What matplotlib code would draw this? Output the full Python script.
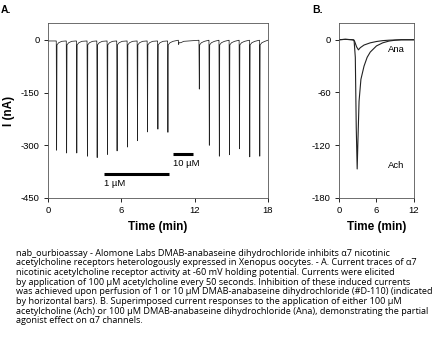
import matplotlib.pyplot as plt
import numpy as np

plt.rcParams['font.family'] = ['Liberation Sans Narrow', 'Liberation Sans', 'DejaVu Sans']

# panel A: acetylcholine pulses (time in min, peak current in nA)
spike_t = [0.68, 1.50, 2.33, 3.20, 4.00, 4.84, 5.63, 6.48, 7.30, 8.12, 8.97, 9.79,
           10.67, 12.36, 13.18, 14.00, 14.83, 15.65, 16.49, 17.31]
spike_i = [-314, -322, -322, -331, -335, -326, -316, -305, -287, -262, -254, -263,
           -13, -140, -300, -331, -327, -310, -333, -331]
bars = [(4.6, 9.93, -383, '1 µM'), (10.23, 11.84, -325, '10 µM')]

# panel B: superimposed responses
ach_t = [0, 1, 2, 2.4, 2.6, 2.75, 2.9, 3.0, 3.2, 3.5, 4.0, 4.5, 5, 6, 7, 8, 9, 10, 12]
ach_i = [0, 0.5, 0, -0.5, -20, -100, -147, -120, -70, -45, -30, -20, -14, -7, -3.5, -1.5, -0.5, 0, 0]
ana_t = [0, 1, 2.3, 2.5, 2.8, 3.1, 3.4, 4, 5, 6, 7, 8, 10, 12]
ana_i = [0, 0.5, 0, -2, -8, -11.5, -9, -6, -3.5, -2, -1, -0.5, 0, 0]

caption = [
    "nab_ourbioassay - Alomone Labs DMAB-anabaseine dihydrochloride inhibits \u03b17 nicotinic",
    "acetylcholine receptors heterologously expressed in Xenopus oocytes. - A. Current traces of \u03b17",
    "nicotinic acetylcholine receptor activity at -60 mV holding potential. Currents were elicited",
    "by application of 100 \u00b5M acetylcholine every 50 seconds. Inhibition of these induced currents",
    "was achieved upon perfusion of 1 or 10 \u00b5M DMAB-anabaseine dihydrochloride (#D-110) (indicated",
    "by horizontal bars). B. Superimposed current responses to the application of either 100 \u00b5M",
    "acetylcholine (Ach) or 100 \u00b5M DMAB-anabaseine dihydrochloride (Ana), demonstrating the partial",
    "agonist effect on \u03b17 channels.",
]

# build trace A from the pulses
tx, ty = [0.0], [-3.0]
for t, p in zip(spike_t, spike_i):
    base = -3 if t < 10 else -1
    tx += [t - 0.02, t, t + 0.03, t + 0.06, t + 0.2, t + 0.45]
    ty += [base, base, p, -14 if p < -50 else p * 0.6, -8, -4]
tx.append(18.0)
ty.append(-1)

fig = plt.figure(figsize=(4.32, 3.39), dpi=100)

axA = fig.add_axes([0.111, 0.416, 0.509, 0.516])
axA.plot(tx, ty, color='#222222', lw=0.55)
for x0, x1, y, lab in bars:
    axA.plot([x0, x1], [y, y], color='black', lw=2.2, solid_capstyle='butt')
    axA.text(x0, y - 14, lab, fontsize=6.8, ha='left', va='top')
axA.set_xlim(0, 18)
axA.set_ylim(-450, 48)
axA.set_xticks([0, 6, 12, 18])
axA.set_yticks([0, -150, -300, -450])
axA.set_yticklabels(['0', '-150', '-300', '-450'])
axA.set_ylabel('I (nA)', fontsize=8.5, fontweight='bold', family=['Liberation Sans', 'DejaVu Sans'])
axA.set_xlabel('Time (min)', fontsize=8.5, fontweight='bold', family=['Liberation Sans', 'DejaVu Sans'])

axB = fig.add_axes([0.785, 0.416, 0.173, 0.516])
axB.plot(ach_t, ach_i, color='#222222', lw=0.8)
axB.plot(ana_t, ana_i, color='#222222', lw=0.8)
axB.text(7.8, -11.4, 'Ana', fontsize=6.8, ha='left', va='center')
axB.text(7.8, -143, 'Ach', fontsize=6.8, ha='left', va='center')
axB.set_xlim(0, 12)
axB.set_ylim(-180, 19)
axB.set_xticks([0, 6, 12])
axB.set_yticks([0, -60, -120, -180])
axB.set_yticklabels(['0', '-60', '-120', '-180'])
axB.set_xlabel('Time (min)', fontsize=8.5, fontweight='bold', family=['Liberation Sans', 'DejaVu Sans'])

for ax in (axA, axB):
    ax.tick_params(direction='out', length=3, width=0.6, labelsize=6.8, pad=3)
    ax.set_xticklabels([str(int(v)) for v in ax.get_xticks()])
    for s in ax.spines.values():
        s.set_linewidth(0.6)
        s.set_color('#555555')

fig.text(0.002, 0.985, 'A.', fontsize=7.5, fontweight='bold', va='top', family=['Liberation Sans', 'DejaVu Sans'])
fig.text(0.722, 0.985, 'B.', fontsize=7.5, fontweight='bold', va='top', family=['Liberation Sans', 'DejaVu Sans'])

for k, line in enumerate(caption):
    fig.text(16 / 432, 1 - (253 + 9.7 * k) / 339, line, fontsize=6.6, va='center', ha='left',
             family=['Open Sans', 'DejaVu Sans'])

fig.savefig('out.png', dpi=100)
